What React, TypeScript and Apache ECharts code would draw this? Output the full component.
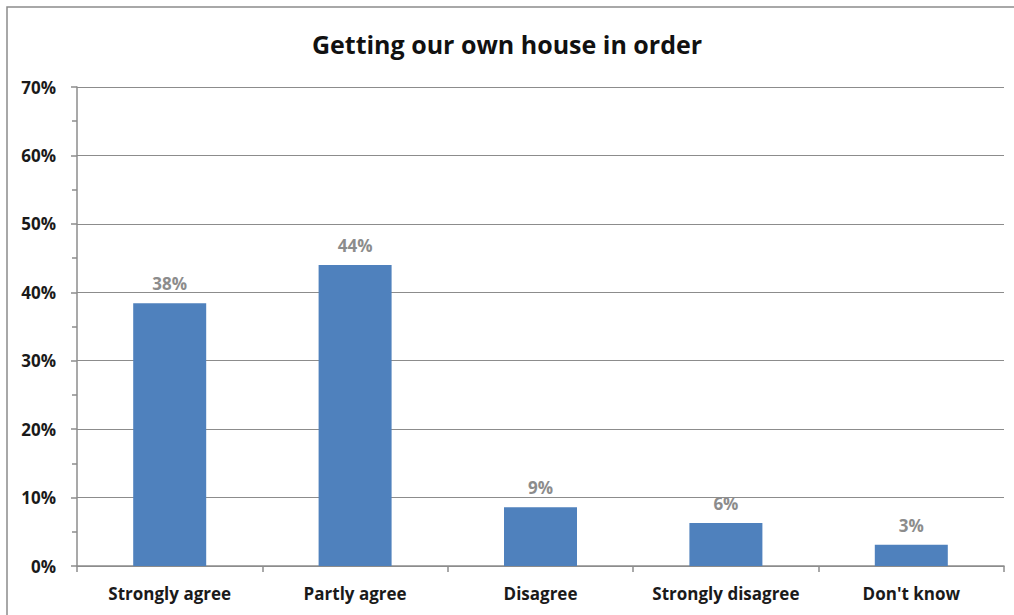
import React, { useEffect, useRef } from "react";
import * as echarts from "echarts";

const categories = ["Strongly agree", "Partly agree", "Disagree", "Strongly disagree", "Don't know"];
const values = [38.4, 44.0, 8.6, 6.3, 3.1];
const title = "Getting our own house in order";

export default function App() {
  const ref = useRef<HTMLDivElement>(null);
  useEffect(() => {
    if (!ref.current) return;
    const chart = echarts.init(ref.current, null, { renderer: "svg" });
    const font = "'Open Sans', 'Liberation Sans', sans-serif";
    chart.setOption({
      animation: false,
      backgroundColor: "#ffffff",
      title: {
        text: title,
        left: "center",
        top: 26,
        textStyle: { fontFamily: font, fontSize: 25, fontWeight: "bold", color: "#111111" },
      },
      graphic: [
        {
          type: "rect",
          shape: { x: 7, y: 7, width: 1030, height: 640 },
          style: { fill: "none", stroke: "#8c8c8c", lineWidth: 1.5 },
          silent: true,
        },
      ],
      grid: { left: 77, right: 10, top: 87, bottom: 49, containLabel: false },
      xAxis: {
        type: "category",
        data: categories,
        axisLine: { show: true, lineStyle: { color: "#8c8c8c", width: 1.5 } },
        axisTick: { show: true, interval: 0, alignWithLabel: false, length: 6, lineStyle: { color: "#8c8c8c", width: 1.5 } },
        axisLabel: { interval: 0, hideOverlap: false, margin: 19, fontFamily: font, fontSize: 17, fontWeight: "bold", color: "#1a1a1a" },
      },
      yAxis: {
        type: "value",
        min: 0,
        max: 70,
        interval: 10,
        axisLine: { show: true, lineStyle: { color: "#8c8c8c", width: 1.5 } },
        axisTick: { show: true, length: 6, lineStyle: { color: "#8c8c8c", width: 1.5 } },
        minorTick: { show: true, splitNumber: 2, length: 5, lineStyle: { color: "#8c8c8c", width: 1.5 } },
        splitLine: { show: true, lineStyle: { color: "#8c8c8c", width: 1.2 } },
        axisLabel: {
          formatter: "{value}%",
          margin: 21,
          fontFamily: font,
          fontSize: 17,
          fontWeight: "bold",
          color: "#1a1a1a",
        },
      },
      series: [
        {
          type: "bar",
          data: values,
          barWidth: 73,
          itemStyle: { color: "#4f81bd" },
          label: {
            show: true,
            position: "top",
            distance: 11,
            formatter: (p: any) => Math.round(p.value) + "%",
            fontFamily: font,
            fontSize: 17,
            fontWeight: "bold",
            color: "#8c8c8c",
          },
        },
      ],
    });
    return () => chart.dispose();
  }, []);
  return <div ref={ref} style={{ position: "fixed", left: 0, top: 0, width: 1014, height: 615 }} />;
}
